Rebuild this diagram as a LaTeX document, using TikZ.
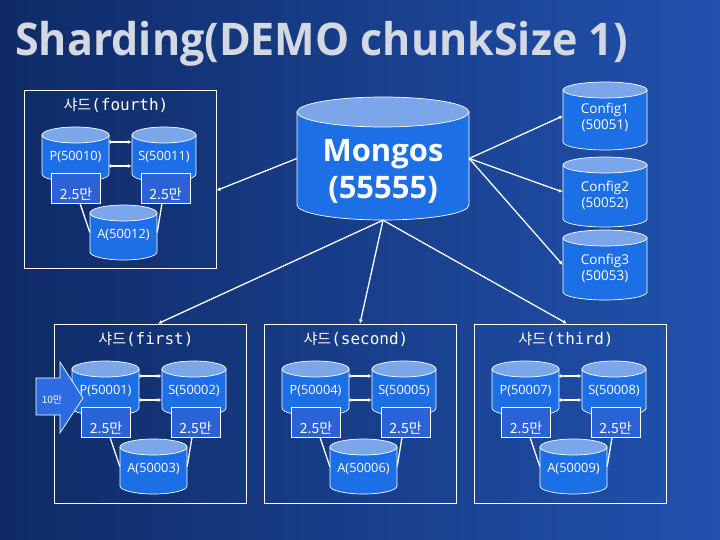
\documentclass[tikz,border=0pt]{standalone}
\usepackage{fontspec}
\setmainfont{Open Sans}
\newfontfamily\kr{Noto Sans CJK KR}
\newfontfamily\monof{DejaVu Sans Mono}
\usetikzlibrary{arrows.meta}
\definecolor{bgL}{HTML}{0F2A66}
\definecolor{bgR}{HTML}{2152AE}
\definecolor{cylB}{HTML}{1D6FE6}
\definecolor{cylT}{HTML}{7BA7EA}
\definecolor{boxF}{HTML}{2B62D6}
\definecolor{arrF}{HTML}{2D6BE0}
\definecolor{ttl}{HTML}{D4D8E2}
\tikzset{
  shardbox/.style={draw=white,line width=0.8pt,minimum width=192bp,inner sep=0pt},
  halfbox/.style={fill=boxF,draw=white,line width=0.7pt,minimum width=49bp,minimum height=30bp,inner sep=0pt},
  celltext/.style={text=white,font=\fontsize{12.8bp}{14bp}\selectfont,inner sep=0pt},
  halftext/.style={text=white,font=\kr\fontsize{14bp}{16bp}\selectfont,inner sep=0pt},
  shtitle/.style={text=white,inner sep=0pt},
  link/.style={draw=white,line width=1.3pt},
  rep/.style={link,{Circle[length=3pt]}-{Latex[length=4pt,width=4pt]}},
  toarrow/.style={link,-{Latex[length=4pt,width=4pt]}},
  cylbody/.style={fill=cylB,draw=white,line width=0.7pt},
  cyltop/.style={fill=cylT,draw=white,line width=0.7pt}
}
\newcommand\sht[1]{{\kr\fontsize{15bp}{18bp}\selectfont 샤드}{\monof\fontsize{16bp}{18bp}\selectfont(#1)}}
\newcommand\mycyl[7]{%
  \path[cylbody] (#2,{(#4)+(#6)}) -- (#2,{(#5)-(#6)}) arc[start angle=180,end angle=0,x radius={((#3)-(#2))/2},y radius=#6] -- (#3,{(#4)+(#6)}) -- cycle;
  \path[cyltop] ({((#2)+(#3))/2},{(#4)+(#6)}) ellipse[x radius={((#3)-(#2))/2},y radius=#6];
  \node[inner sep=0pt,minimum width={((#3)-(#2))*1bp},minimum height={((#5)-(#4))*1bp}] (#1) at ({((#2)+(#3))/2},{((#4)+(#5))/2}) {};
  \node[celltext] at ([yshift=2bp]#1.center) {#7};
}
\newcommand\shard[8]{%
  \node[shardbox,minimum height={(#4)*1bp}] (#1box) at ({#2+96},{#3+(#4)/2}) {};
  \node[shtitle] (#1t) at ({#2+92},{#3+15}) {\sht{#5}};
  \mycyl{#1P}{#2+18}{#2+85}{#3+37}{#3+92}{8}{#6}
  \mycyl{#1S}{#2+108}{#2+172}{#3+37}{#3+92}{8}{#7}
  \node[halfbox] (#1b1) at ({#2+52},{#3+98}) {};
  \node[halftext] at ([yshift=6bp]#1b1.center) {2.5만};
  \node[halfbox] (#1b2) at ({#2+141.5},{#3+98}) {};
  \node[halftext] at ([yshift=6bp]#1b2.center) {2.5만};
  \draw[rep] ([yshift=11.5bp]#1P.east) -- ([yshift=11.5bp]#1S.west);
  \draw[rep] ([yshift=-12.5bp]#1P.east) -- ([yshift=-12.5bp]#1S.west);
  \mycyl{#1A}{#2+66}{#2+133}{#3+115}{#3+170}{8}{#8}
  \draw[link] ([xshift=4bp]#1b1.south) -- (#1A.west);
  \draw[link] ([xshift=-3.5bp]#1b2.south) -- (#1A.east);
}
\begin{document}
\begin{tikzpicture}[x=1bp,y=1bp,yscale=-1]
\useasboundingbox (0,0) rectangle (720,540);
\shade[left color=bgL,right color=bgR] (0,0) rectangle (720,540);
\node[anchor=base west,inner sep=0pt,text=ttl,font=\bfseries\fontsize{45bp}{54bp}\selectfont] (title) at (15,56) {\scalebox{0.955}[1]{Sharding(DEMO chunkSize 1)}};
% Mongos
\mycyl{mongos}{297}{469}{97}{220}{15}{}
\node[text=white,align=center,inner sep=0pt,font=\bfseries\fontsize{31bp}{37bp}\selectfont] (mongostext) at (383,171) {Mongos\\(55555)};
% configs
\mycyl{c1}{563}{647}{82}{150}{8}{}
\node[text=white,align=center,inner sep=0pt,font=\fontsize{13.5bp}{16bp}\selectfont] (c1t) at (605,117) {Config1\\(50051)};
\mycyl{c2}{563}{647}{157}{227}{8}{}
\node[text=white,align=center,inner sep=0pt,font=\fontsize{13.5bp}{16bp}\selectfont] (c2t) at (605,195) {Config2\\(50052)};
\mycyl{c3}{563}{647}{230}{300}{8}{}
\node[text=white,align=center,inner sep=0pt,font=\fontsize{13.5bp}{16bp}\selectfont] (c3t) at (605,268) {Config3\\(50053)};
% shards
\shard{f}{24}{90}{178}{fourth}{P(50010)}{S(50011)}{A(50012)}
\shard{a}{54}{324}{179}{first}{P(50001)}{S(50002)}{A(50003)}
\shard{b}{264}{324}{179}{second}{P(50004)}{S(50005)}{A(50006)}
\shard{c}{474}{324}{179}{third}{P(50007)}{S(50008)}{A(50009)}
% 10man arrow
\path[fill=arrF,draw=white,line width=0.7pt] (36,378) -- (60,378) -- (60,362) -- (83,398) -- (60,433) -- (60,415) -- (36,415) -- cycle;
\node[text=white,inner sep=0pt,font=\kr\fontsize{10bp}{12bp}\selectfont] (ten) at (52,400) {10만};
% connectors
\draw[toarrow] (mongos.west) -- ([yshift=11.5bp]fbox.east);
\draw[toarrow] (mongos.east) -- (c1.west);
\draw[toarrow] (mongos.east) -- (c2.west);
\draw[toarrow] (mongos.east) -- (c3.west);
\draw[toarrow] (mongos.south) -- ([xshift=8bp]abox.north);
\draw[toarrow] (mongos.south) -- (bbox.north);
\draw[toarrow] (mongos.south) -- ([xshift=-3bp]cbox.north);
\end{tikzpicture}
\end{document}
